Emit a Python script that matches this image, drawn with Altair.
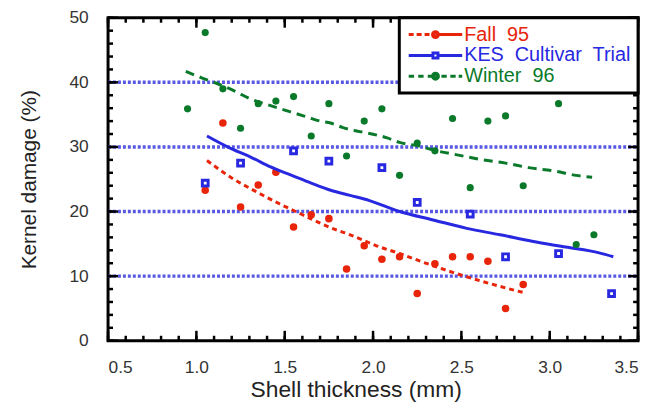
import altair as alt
import pandas as pd

FONT = "Liberation Sans"

SERIES = ["Fall 95", "KES Cultivar Trial", "Winter 96"]
COLORS = ["#e8250a", "#2828e0", "#0a7a2a"]

FALL_X = [1.05, 1.15, 1.25, 1.35, 1.45, 1.55, 1.65, 1.75, 1.85, 1.95,
          2.05, 2.15, 2.25, 2.35, 2.45, 2.55, 2.65, 2.75, 2.85]
FALL_Y = [23.3, 33.7, 20.7, 24.1, 26.1, 17.6, 19.5, 18.9, 11.1, 14.7,
          12.6, 13.0, 7.3, 11.9, 13.0, 13.0, 12.3, 5.0, 8.7]
KES_X = [1.05, 1.25, 1.55, 1.75, 2.05, 2.25, 2.55, 2.75, 3.05, 3.35]
KES_Y = [24.4, 27.5, 29.4, 27.8, 26.8, 21.4, 19.6, 13.0, 13.5, 7.3]
WIN_X = [0.95, 1.05, 1.15, 1.25, 1.35, 1.45, 1.55, 1.65, 1.75, 1.85, 1.95, 2.05,
         2.15, 2.25, 2.35, 2.45, 2.55, 2.65, 2.75, 2.85, 3.05, 3.15, 3.25]
WIN_Y = [35.9, 47.7, 39.0, 32.9, 36.7, 37.1, 37.8, 31.7, 36.7, 28.6, 34.0, 35.9,
         25.6, 30.6, 29.4, 34.4, 23.7, 34.0, 34.8, 24.0, 36.7, 14.9, 16.4]
FALL_FIT_X = [1.06, 1.20, 1.33, 1.47, 1.57, 1.67, 1.76, 1.85, 1.95, 2.01,
              2.15, 2.34, 2.53, 2.72, 2.86]
FALL_FIT_Y = [27.9, 25.2, 23.2, 21.2, 19.9, 18.6, 17.5, 16.6, 15.5, 14.8,
              13.5, 11.6, 9.9, 8.4, 7.4]
KES_FIT_X = [1.06, 1.20, 1.31, 1.42, 1.54, 1.65, 1.76, 1.87, 1.98, 2.15,
             2.34, 2.53, 2.72, 2.90, 3.09, 3.28, 3.36]
KES_FIT_Y = [31.7, 29.7, 28.4, 26.9, 25.6, 24.4, 23.3, 22.5, 21.7, 20.0,
             18.7, 17.4, 16.4, 15.4, 14.5, 13.6, 13.0]
WIN_FIT_X = [0.94, 1.03, 1.11, 1.22, 1.30, 1.42, 1.50, 1.56, 1.63, 1.70, 1.76,
             1.83, 1.90, 1.96, 2.08, 2.15, 2.25, 2.36, 2.49, 2.62, 2.75, 2.88,
             3.02, 3.15, 3.24]
WIN_FIT_Y = [41.7, 40.7, 39.9, 38.6, 37.5, 36.4, 35.7, 35.2, 34.6, 34.0, 33.7,
             33.0, 32.5, 32.2, 31.4, 30.7, 30.2, 29.4, 28.7, 28.0, 27.5, 26.8,
             26.3, 25.6, 25.3]

X_DOMAIN = [0.5, 3.5]
Y_DOMAIN = [0, 50]
X_LABELS = [0.5, 1.0, 1.5, 2.0, 2.5, 3.0, 3.5]
Y_LABELS = [0, 10, 20, 30, 40, 50]
Y_GRID = [10, 20, 30, 40]
X_MINOR = [round(0.5 + 0.1 * i, 1) for i in range(31)]
Y_MINOR = list(range(0, 51, 2))

X_TITLE = "Shell thickness (mm)"
Y_TITLE = "Kernel damage (%)"

DOT = "".join(
    "M-%s,0A%s,%s 0 1,0 %s,0A%s,%s 0 1,0 -%s,0" % (r, r, r, r, r, r, r)
    for r in ("0.5", "0.3", "0.1")
)
LEGEND_PATHS = [
    "M-4.5,0H-3.67M-3.17,0H-2.33M-1.83,0H-1.0" + DOT + "M0.5,0H4.5",
    "M-4.5,0H-0.42M0.42,0H4.5M-0.42,-0.42H0.42V0.42H-0.42Z",
    "M-4.5,0H-3.6M-2.9,0H-2.0M-1.3,0H-0.6" + DOT + "M1.0,0H1.9M2.5,0H3.4M3.9,0H4.5",
]

W, H = 535, 326
MAJOR_LEN, MINOR_LEN = 10, 5
RED, BLUE, GREEN = COLORS

fall_df = pd.DataFrame({"x": FALL_X, "y": FALL_Y})
kes_df = pd.DataFrame({"x": KES_X, "y": KES_Y})
win_df = pd.DataFrame({"x": WIN_X, "y": WIN_Y})
fall_fit = pd.DataFrame({"x": FALL_FIT_X, "y": FALL_FIT_Y})
kes_fit = pd.DataFrame({"x": KES_FIT_X, "y": KES_FIT_Y})
win_fit = pd.DataFrame({"x": WIN_FIT_X, "y": WIN_FIT_Y})
grid_df = pd.DataFrame({"g": Y_GRID})
leg_df = pd.DataFrame({"series": SERIES, "x": [1.0, 1.0, 1.0], "y": [1.0, 1.0, 1.0]})

xs = alt.Scale(domain=X_DOMAIN, nice=False, zero=False)
ys = alt.Scale(domain=Y_DOMAIN, nice=False, zero=False)

x_main = alt.Axis(
    orient="bottom", values=X_LABELS, format=".1f", ticks=False, tickSize=0,
    domain=False, grid=False, labelFont=FONT, labelFontSize=17.5,
    labelColor="#333333", labelPadding=18, labelFlush=True,
    titleFont=FONT, titleFontSize=23, titleFontWeight="normal",
    titleColor="#222222", titleX=250, titleY=56, titleBaseline="alphabetic",
    titleAlign="center",
)
y_main = alt.Axis(
    orient="left", values=Y_LABELS, ticks=False, tickSize=0, domain=False,
    grid=False, labelFont=FONT, labelFontSize=17.5, labelColor="#333333",
    labelPadding=20, labelFlush=False, titleFont=FONT, titleFontSize=21,
    titleFontWeight="normal", titleColor="#222222", titleX=-73, titleY=163,
    titleAngle=270, titleBaseline="alphabetic", titleAlign="center",
)


def X(field):
    return alt.X(field + ":Q", scale=xs, axis=x_main, title=X_TITLE)


def Y(field):
    return alt.Y(field + ":Q", scale=ys, axis=y_main, title=Y_TITLE)


# dotted blue horizontal grid lines at 10, 20, 30, 40
grid = alt.Chart(grid_df).mark_rule(
    color="#4646e0", strokeWidth=3.5, strokeDash=[3, 2], opacity=0.9
).encode(y=Y("g"), x=alt.value(0), x2=alt.value(W))

red_pts = alt.Chart(fall_df).mark_circle(color=RED, size=58, opacity=1).encode(
    x=X("x"), y=Y("y"))
red_line = alt.Chart(fall_fit).mark_line(
    color=RED, strokeWidth=3, strokeDash=[5, 4], interpolate="monotone"
).encode(x=X("x"), y=Y("y"))
green_line = alt.Chart(win_fit).mark_line(
    color=GREEN, strokeWidth=3, strokeDash=[9, 6], interpolate="monotone"
).encode(x=X("x"), y=Y("y"))
blue_line = alt.Chart(kes_fit).mark_line(
    color=BLUE, strokeWidth=3, interpolate="monotone"
).encode(x=X("x"), y=Y("y"))
blue_pts = alt.Chart(kes_df).mark_point(
    shape="square", fill="white", stroke=BLUE, strokeWidth=3, size=34, opacity=1
).encode(x=X("x"), y=Y("y"))
green_pts = alt.Chart(win_df).mark_circle(color=GREEN, size=52, opacity=1).encode(
    x=X("x"), y=Y("y"))


# inward tick marks on all four sides of the frame
def x_ticks(values, length, at_top):
    df = pd.DataFrame({"tx": values})
    y0, y1 = (0, length) if at_top else (H, H - length)
    return alt.Chart(df).mark_rule(color="black", strokeWidth=2.5, opacity=1).encode(
        x=X("tx"), y=alt.value(y0), y2=alt.value(y1)
    )


def y_ticks(values, length, at_left):
    df = pd.DataFrame({"ty": values})
    x0, x1 = (0, length) if at_left else (W, W - length)
    return alt.Chart(df).mark_rule(color="black", strokeWidth=2.5, opacity=1).encode(
        y=Y("ty"), x=alt.value(x0), x2=alt.value(x1)
    )


tick_layers = [
    x_ticks(X_MINOR, MINOR_LEN, True), x_ticks(X_LABELS, MAJOR_LEN, True),
    x_ticks(X_MINOR, MINOR_LEN, False), x_ticks(X_LABELS, MAJOR_LEN, False),
    y_ticks(Y_MINOR, MINOR_LEN, True), y_ticks(Y_LABELS, MAJOR_LEN, True),
    y_ticks(Y_MINOR, MINOR_LEN, False), y_ticks(Y_LABELS, MAJOR_LEN, False),
]

label_color = ("datum.value == 'Fall 95' ? '%s' : (datum.value == 'Winter 96' ? '%s' : '%s')"
               % (RED, GREEN, BLUE))
legend = alt.Legend(
    orient="top-right", offset=0, padding=7, fillColor="white", strokeColor="black",
    symbolSize=144, symbolStrokeWidth=3, symbolOpacity=1, symbolOffset=19.5,
    labelOffset=19, labelFont=FONT, labelFontSize=20, labelLimit=400,
    labelColor={"expr": label_color}, rowPadding=1,
    labelExpr="join(split(datum.label, ' '), '\u00a0 ')",
)
legend_layer = alt.Chart(leg_df).transform_filter("false").mark_point(
    filled=False, strokeWidth=3, opacity=1
).encode(
    x=X("x"),
    y=Y("y"),
    color=alt.Color("series:N", scale=alt.Scale(domain=SERIES, range=COLORS),
                    legend=legend, title=None),
    shape=alt.Shape("series:N", scale=alt.Scale(domain=SERIES, range=LEGEND_PATHS),
                    legend=legend, title=None),
)

chart = (
    alt.layer(grid, *tick_layers, red_pts, red_line, green_line, blue_line,
              blue_pts, green_pts, legend_layer)
    .properties(
        width=W, height=H,
        padding={"left": 101, "top": 8, "right": 6, "bottom": 60},
        autosize=alt.AutoSizeParams(type="none"),
    )
    .configure(font=FONT)
    .configure_view(stroke="black", strokeWidth=3)
    .configure_legend(strokeWidth=3)
)

chart.save("out.html", embed_options={"renderer": "svg", "actions": False})
